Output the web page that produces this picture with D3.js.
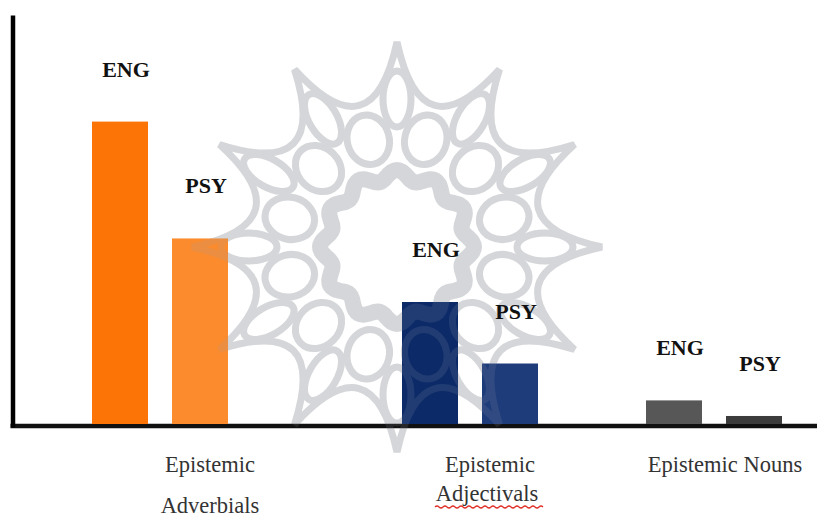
<!DOCTYPE html>
<html>
<head>
<meta charset="utf-8">
<script src="https://cdn.jsdelivr.net/npm/d3@7"></script>
<style>
  body { margin: 0; background: #fff; }
  svg { display: block; }
</style>
</head>
<body>
<svg id="chart" width="817" height="518"></svg>
<script>
// data (arbitrary units, no y ticks in the original)
const categories = ["Epistemic Adverbials", "Epistemic Adjectivals", "Epistemic Nouns"];
const series = ["ENG", "PSY"];
const engValues = [74, 30, 6];
const psyValues = [45.5, 15, 2.2];
const categoryLines = [["Epistemic", "Adverbials"], ["Epistemic", "Adjectivals"], ["Epistemic Nouns"]];

const barColors = {
  "Epistemic Adverbials": ["#fc7405", "#fb8b2d"],
  "Epistemic Adjectivals": ["#0c2a68", "#1f3c7a"],
  "Epistemic Nouns": ["#575757", "#3c3c3c"]
};

const W = 817, H = 518;
const svg = d3.select("#chart");
svg.append("rect").attr("width", W).attr("height", H).attr("fill", "#fff");

const y = d3.scaleLinear().domain([0, 100]).range([425, 15]);
// group centres are not evenly spaced in the original
const groupX = d3.scaleOrdinal().domain(categories).range([160, 470, 714]);
const inner = d3.scaleBand().domain(series).range([-80, 80]).paddingInner(0.3).paddingOuter(0.15);
const labelX = d3.scaleOrdinal().domain(categories).range([210, 490, 725]);
const lineGap = d3.scaleOrdinal().domain(categories).range([41, 29, 0]);

const bars = [];
categories.forEach((c, i) => {
  bars.push({ cat: c, s: "ENG", v: engValues[i], color: barColors[c][0] });
  bars.push({ cat: c, s: "PSY", v: psyValues[i], color: barColors[c][1] });
});

// watermark ornament (background decoration)
function pt(r, deg) {
  const a = deg * Math.PI / 180;
  return [r * Math.sin(a), -r * Math.cos(a)];
}
function drawOrnament(g) {
  let p = d3.path();
  for (let k = 0; k < 12; k++) {
    const a = pt(205, k * 30), c = pt(95, k * 30 + 15), b = pt(205, k * 30 + 30);
    if (k === 0) p.moveTo(a[0], a[1]);
    p.quadraticCurveTo(c[0], c[1], b[0], b[1]);
  }
  p.closePath();
  g.append("path").attr("d", p.toString());

  for (let k = 0; k < 12; k++) {
    g.append("ellipse").attr("cx", 0).attr("cy", -111).attr("rx", 21).attr("ry", 25)
      .attr("transform", `rotate(${k * 30 + 15})`);
    g.append("ellipse").attr("cx", 0).attr("cy", -148).attr("rx", 14).attr("ry", 28)
      .attr("transform", `rotate(${k * 30})`);
  }

  const ros = d3.lineRadial().curve(d3.curveCardinalClosed)
    .angle(d => d).radius(d => 72 + 5 * Math.cos(12 * d));
  g.append("path").attr("d", ros(d3.range(0, 2 * Math.PI, Math.PI / 48))).attr("stroke-width", 16);
}
const wmBack = svg.append("g").attr("transform", "translate(397,247)")
  .attr("fill", "none").attr("stroke", "#e0e0e0").attr("stroke-width", 7);
drawOrnament(wmBack);

// axes (no ticks, only the thick black lines)
const xAxisScale = d3.scaleLinear().domain([0, 1]).range([10, W]);
svg.append("g").attr("transform", "translate(0,425.5)")
  .call(d3.axisBottom(xAxisScale).tickValues([]).tickSizeOuter(0))
  .call(g => g.select(".domain").attr("stroke", "#111").attr("stroke-width", 4.5));
svg.append("g").attr("transform", "translate(12.5,0)")
  .call(d3.axisLeft(y.copy().range([427, 15])).tickValues([]).tickSizeOuter(0))
  .call(g => g.select(".domain").attr("stroke", "#000").attr("stroke-width", 4.5));

// bars
svg.append("g").selectAll("rect").data(bars).enter().append("rect")
  .attr("x", d => groupX(d.cat) + inner(d.s))
  .attr("y", d => y(d.v))
  .attr("width", inner.bandwidth())
  .attr("height", d => y(0) - y(d.v) - 1)
  .attr("fill", d => d.color);

// faint copy of the watermark over the bars
const wmFront = svg.append("g").attr("transform", "translate(397,247)")
  .attr("fill", "none").attr("stroke", "#9aa3b5").attr("stroke-width", 7).attr("opacity", 0.15);
drawOrnament(wmFront);

// series labels above bars
svg.append("g").selectAll("text").data(bars).enter().append("text")
  .attr("x", d => groupX(d.cat) + inner(d.s) + inner.bandwidth() / 2 + 6)
  .attr("y", d => y(d.v) - 45)
  .attr("text-anchor", "middle")
  .attr("font-family", "'Liberation Serif', 'Times New Roman', serif")
  .attr("font-weight", "bold")
  .attr("font-size", 22)
  .attr("fill", "#111")
  .text(d => d.s);

// category labels
categories.forEach((c, i) => {
  categoryLines[i].forEach((line, j) => {
    svg.append("text")
      .attr("x", labelX(c) - (j === 1 && i === 1 ? 3 : 0))
      .attr("y", 472 + j * lineGap(c))
      .attr("text-anchor", "middle")
      .attr("font-family", "'Liberation Serif', 'Times New Roman', serif")
      .attr("font-size", 22.5)
      .attr("fill", "#333")
      .text(line);
  });
});

// red spell-check squiggle under "Adjectivals"
const sq = d3.path();
sq.moveTo(435, 507);
for (let xx = 435; xx < 540; xx += 4) {
  sq.quadraticCurveTo(xx + 2, xx % 8 === 3 ? 505 : 509, xx + 4, 507);
}
svg.append("path").attr("d", sq.toString()).attr("fill", "none")
  .attr("stroke", "#e0302a").attr("stroke-width", 1.2);
</script>
</body>
</html>
